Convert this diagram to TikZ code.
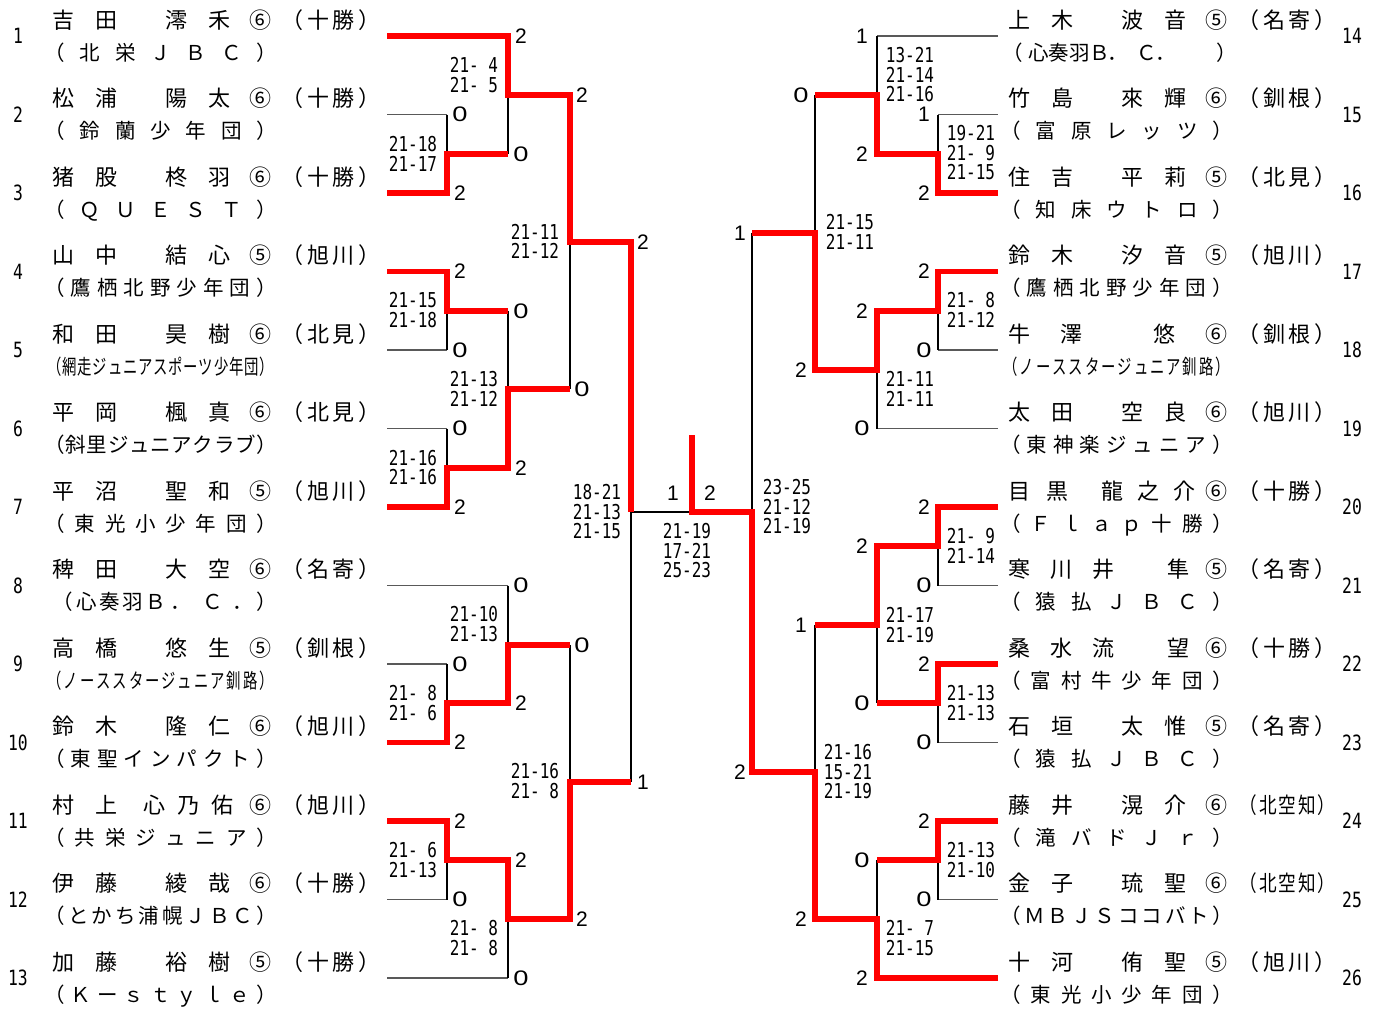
\documentclass[tikz,border=0pt]{standalone}
\usepackage{fontspec}
\usepackage{graphicx}
\newfontfamily\jp{Noto Sans CJK JP}
\newfontfamily\jpn{Noto Sans CJK JP}[FakeStretch=0.7]
\newfontfamily\jpm{Noto Sans CJK JP}[FakeStretch=0.8]
\newfontfamily\scf{DejaVu Sans Mono}[FakeStretch=0.78]
\newfontfamily\dig{Liberation Sans}
\newcount\spk
\newcommand\spread[3]{\def\spA{#1}\def\spP{#2}\global\spk=0\relax\spreadloop#3\relax}
\def\spreadloop#1{\ifx\relax#1\else\rlap{\hspace*{\dimexpr\spA pt+\spP pt*\spk\relax}\makebox[0pt][c]{#1}}\global\advance\spk by 1\relax\expandafter\spreadloop\fi}
\newcommand\std[3]{\spread{10.5}{43}{#1}\spread{123.5}{43}{#2}\spread{208}{0}{#3}}
\newcommand\afw[1]{\spread{240}{25.5}{#1}}
\newcommand\afn[1]{{\jpm\spread{240}{19.5}{#1}}}
\newcommand\tsp[2]{\spread{2}{#1}{#2}}
\begin{document}
\begin{tikzpicture}[x=1pt,y=-1pt,
  nm/.style={anchor=base west, inner sep=0pt, font=\jp\fontsize{22}{22}\selectfont},
  tmn/.style={anchor=base west, inner sep=0pt, font=\jp\fontsize{20.5}{20.5}\selectfont},
  sc/.style={align=center, inner sep=0pt, font=\scf\fontsize{20.5}{19.5}\selectfont},
  scd/.style={inner sep=0pt, font=\dig\fontsize{21}{21}\selectfont},
  num/.style={inner sep=0pt, font=\scf\fontsize{21}{21}\selectfont},
  thinl/.style={line width=1.1pt, black},
  pl/.style={line width=1.1pt, black!65},
  win/.style={line width=5.5pt, red, line join=miter}]
\useasboundingbox (0,0) rectangle (1381,1010);
\fill[white] (0,0) rectangle (1381,1010);

% ---------- thin player lines ----------
\foreach \y in {114.5,350,428.5,664,899.5} \draw[pl] (387,\y) -- (447,\y);
\foreach \y in {585.5,978} \draw[pl] (387,\y) -- (508,\y);
\foreach \y in {114.5,350,585.5,742.5,899.5} \draw[pl] (938,\y) -- (998,\y);
\foreach \y in {36,428.5} \draw[pl] (877,\y) -- (998,\y);

% ---------- thin bracket verticals ----------
\foreach \a/\b in {114.5/193,271.5/350,428.5/507,664/742.5,821/899.5} \draw[thinl] (447,\a) -- (447,\b);
\foreach \a/\b in {36/154,311/468,585.5/703,860/978} \draw[thinl] (508,\a) -- (508,\b);
\foreach \a/\b in {95/389,645/919} \draw[thinl] (570,\a) -- (570,\b);
\draw[thinl] (631,242) -- (631,782);
\foreach \a/\b in {114.5/193,271.5/350,507/585.5,664/742.5,821/899.5} \draw[thinl] (938,\a) -- (938,\b);
\foreach \a/\b in {36/154,311/428.5,546/703,860/978} \draw[thinl] (877,\a) -- (877,\b);
\foreach \a/\b in {95/370,625/919} \draw[thinl] (815,\a) -- (815,\b);
\draw[thinl] (752,233) -- (752,772);
\draw[thinl] (631,512) -- (752,512);

% ---------- winners (red) ----------
\draw[win] (387,36) -- (508,36) -- (508,95) -- (570,95) -- (570,242) -- (631,242) -- (631,512);
\draw[win] (387,193) -- (447,193) -- (447,154) -- (508,154);
\draw[win] (387,271.5) -- (447,271.5) -- (447,311) -- (508,311);
\draw[win] (387,507) -- (447,507) -- (447,468) -- (508,468) -- (508,389) -- (570,389);
\draw[win] (387,742.5) -- (447,742.5) -- (447,703) -- (508,703) -- (508,645) -- (570,645);
\draw[win] (387,821) -- (447,821) -- (447,860) -- (508,860) -- (508,919) -- (570,919) -- (570,782) -- (631,782);
\draw[win] (998,193) -- (938,193) -- (938,154) -- (877,154) -- (877,95) -- (815,95);
\draw[win] (998,271.5) -- (938,271.5) -- (938,311) -- (877,311) -- (877,370) -- (815,370) -- (815,233) -- (752,233);
\draw[win] (998,507) -- (938,507) -- (938,546) -- (877,546) -- (877,625) -- (815,625);
\draw[win] (998,664) -- (938,664) -- (938,703) -- (877,703);
\draw[win] (998,821) -- (938,821) -- (938,860) -- (877,860);
\draw[win] (998,978) -- (877,978) -- (877,919) -- (815,919) -- (815,772) -- (752,772) -- (752,512) -- (692,512) -- (692,435);

% ---------- game counts ----------
\foreach \x/\y/\t [count=\i] in {
  460/114.5/0,460/193/2,460/271.5/2,460/350/0,460/428.5/0,460/507/2,460/664/0,460/742.5/2,460/821/2,460/899.5/0,
  521/36/2,521/154/0,521/311/0,521/468/2,521/585.5/0,521/703/2,521/860/2,521/978/0,
  582/95/2,582/389/0,582/645/0,582/919/2,643/242/2,643/782/1,673/493/1,710/493/2,
  924/114.5/1,924/193/2,924/271.5/2,924/350/0,924/507/2,924/585.5/0,924/664/2,924/742.5/0,924/821/2,924/899.5/0,
  862/36/1,862/154/2,862/311/2,862/428.5/0,862/546/2,862/703/0,862/860/0,862/978/2,
  801/95/0,801/370/2,801/625/1,801/919/2,740/233/1,740/772/2}
  \node[scd] (g\i) at (\x,\y) {\ifnum\t=0 \scalebox{1.3}[1]{0}\else\t\fi};

% ---------- game scores ----------
\node[sc] (s1) at (413,154) {21-18\\21-17};
\node[sc] (s2) at (474,75) {21- 4\\21- 5};
\node[sc] (s3) at (413,310) {21-15\\21-18};
\node[sc] (s4) at (413,467.5) {21-16\\21-16};
\node[sc] (s5) at (474,389) {21-13\\21-12};
\node[sc] (s6) at (535,241.5) {21-11\\21-12};
\node[sc] (s7) at (597,512) {18-21\\21-13\\21-15};
\node[sc] (s8) at (474,624) {21-10\\21-13};
\node[sc] (s9) at (413,703) {21- 8\\21- 6};
\node[sc] (s10) at (413,860) {21- 6\\21-13};
\node[sc] (s11) at (474,938) {21- 8\\21- 8};
\node[sc] (s12) at (535,781) {21-16\\21- 8};
\node[sc] (s13) at (687,551) {21-19\\17-21\\25-23};
\node[sc] (s14) at (910,75) {13-21\\21-14\\21-16};
\node[sc] (s15) at (971,153) {19-21\\21- 9\\21-15};
\node[sc] (s16) at (850,232) {21-15\\21-11};
\node[sc] (s17) at (971,310) {21- 8\\21-12};
\node[sc] (s18) at (910,389) {21-11\\21-11};
\node[sc] (s19) at (787,507) {23-25\\21-12\\21-19};
\node[sc] (s20) at (971,546) {21- 9\\21-14};
\node[sc] (s21) at (910,625) {21-17\\21-19};
\node[sc] (s22) at (971,703) {21-13\\21-13};
\node[sc] (s23) at (848,772) {21-16\\15-21\\21-19};
\node[sc] (s24) at (971,860) {21-13\\21-10};
\node[sc] (s25) at (910,938) {21- 7\\21-15};

% ---------- draw numbers ----------
\foreach \k in {1,...,13} \node[num] (r\k) at (18,{36+78.5*(\k-1)}) {\k};
\foreach \k in {14,...,26} \node[num] (r\k) at (1352,{36+78.5*(\k-14)}) {\k};

% ---------- left players ----------
\node[nm] (n1) at (52,28) {\std{吉田}{澪禾}{⑥}\afw{（十勝）}};
\node[tmn] (t1) at (52,60) {\tsp{35.33}{（北栄ＪＢＣ）}};
\node[nm] (n2) at (52,106.5) {\std{松浦}{陽太}{⑥}\afw{（十勝）}};
\node[tmn] (t2) at (52,138.5) {\tsp{35.33}{（鈴蘭少年団）}};
\node[nm] (n3) at (52,185) {\std{猪股}{柊羽}{⑥}\afw{（十勝）}};
\node[tmn] (t3) at (52,217) {\tsp{35.33}{（ＱＵＥＳＴ）}};
\node[nm] (n4) at (52,263.5) {\std{山中}{結心}{⑤}\afw{（旭川）}};
\node[tmn] (t4) at (52,295.5) {\tsp{26.5}{（鷹栖北野少年団）}};
\node[nm] (n5) at (52,342) {\std{和田}{昊樹}{⑥}\afw{（北見）}};
\node[tmn] (t5) at (52,374) {\jpn\tsp{15.14}{（網走ジュニアスポーツ少年団）}};
\node[nm] (n6) at (52,420.5) {\std{平岡}{楓真}{⑥}\afw{（北見）}};
\node[tmn] (t6) at (52,452.5) {\tsp{21.2}{（斜里ジュニアクラブ）}};
\node[nm] (n7) at (52,499) {\std{平沼}{聖和}{⑤}\afw{（旭川）}};
\node[tmn] (t7) at (52,531) {\tsp{30.29}{（東光小少年団）}};
\node[nm] (n8) at (52,577.5) {\std{稗田}{大空}{⑥}\afw{（名寄）}};
\node[tmn] (t8) at (52,609.5) {\spread{10}{0}{（}\spread{34}{23}{心奏羽Ｂ}\spread{128}{0}{．}\spread{160}{0}{Ｃ}\spread{190}{0}{．}\spread{214}{0}{）}};
\node[nm] (n9) at (52,656) {\std{高橋}{悠生}{⑤}\afw{（釧根）}};
\node[tmn] (t9) at (52,688) {\jpn\tsp{16.31}{（ノーススタージュニア釧路）}};
\node[nm] (n10) at (52,734.5) {\std{鈴木}{隆仁}{⑥}\afw{（旭川）}};
\node[tmn] (t10) at (52,766.5) {\tsp{26.5}{（東聖インパクト）}};
\node[nm] (n11) at (52,813) {\spread{10.5}{43}{村上}\spread{102}{34}{心乃佑}\spread{208}{0}{⑥}\afw{（旭川）}};
\node[tmn] (t11) at (52,845) {\tsp{30.29}{（共栄ジュニア）}};
\node[nm] (n12) at (52,891.5) {\std{伊藤}{綾哉}{⑥}\afw{（十勝）}};
\node[tmn] (t12) at (52,923.5) {\tsp{23.56}{（とかち浦幌ＪＢＣ）}};
\node[nm] (n13) at (52,970) {\std{加藤}{裕樹}{⑤}\afw{（十勝）}};
\node[tmn] (t13) at (52,1002) {\tsp{26.5}{（Ｋーｓｔｙｌｅ）}};

% ---------- right players ----------
\node[nm] (n14) at (1008,28) {\std{上木}{波音}{⑤}\afw{（名寄）}};
\node[tmn] (t14) at (1008,60) {\spread{4}{0}{（}\spread{30}{20.5}{心奏羽Ｂ}\spread{109}{0}{．}\spread{138}{0}{Ｃ}\spread{157}{0}{．}\spread{218}{0}{）}};
\node[nm] (n15) at (1008,106.5) {\std{竹島}{來輝}{⑥}\afw{（釧根）}};
\node[tmn] (t15) at (1008,138.5) {\tsp{35.33}{（富原レッツ）}};
\node[nm] (n16) at (1008,185) {\std{住吉}{平莉}{⑤}\afw{（北見）}};
\node[tmn] (t16) at (1008,217) {\tsp{35.33}{（知床ウトロ）}};
\node[nm] (n17) at (1008,263.5) {\std{鈴木}{汐音}{⑤}\afw{（旭川）}};
\node[tmn] (t17) at (1008,295.5) {\tsp{26.5}{（鷹栖北野少年団）}};
\node[nm] (n18) at (1008,342) {\spread{10.5}{0}{牛}\spread{63}{0}{澤}\spread{156}{0}{悠}\spread{208}{0}{⑥}\afw{（釧根）}};
\node[tmn] (t18) at (1008,374) {\jpn\tsp{16.31}{（ノーススタージュニア釧路）}};
\node[nm] (n19) at (1008,420.5) {\std{太田}{空良}{⑥}\afw{（旭川）}};
\node[tmn] (t19) at (1008,452.5) {\tsp{26.5}{（東神楽ジュニア）}};
\node[nm] (n20) at (1008,499) {\spread{10.5}{38}{目黒}\spread{104}{36}{龍之介}\spread{208}{0}{⑥}\afw{（十勝）}};
\node[tmn] (t20) at (1008,531) {\tsp{30.29}{（Ｆｌａｐ十勝）}};
\node[nm] (n21) at (1008,577.5) {\spread{11}{42}{寒川井}\spread{170}{0}{隼}\spread{208}{0}{⑤}\afw{（名寄）}};
\node[tmn] (t21) at (1008,609.5) {\tsp{35.33}{（猿払ＪＢＣ）}};
\node[nm] (n22) at (1008,656) {\spread{11}{42}{桑水流}\spread{170}{0}{望}\spread{208}{0}{⑥}\afw{（十勝）}};
\node[tmn] (t22) at (1008,688) {\tsp{30.29}{（富村牛少年団）}};
\node[nm] (n23) at (1008,734.5) {\std{石垣}{太惟}{⑤}\afw{（名寄）}};
\node[tmn] (t23) at (1008,766.5) {\tsp{35.33}{（猿払ＪＢＣ）}};
\node[nm] (n24) at (1008,813) {\std{藤井}{滉介}{⑥}\afn{（北空知）}};
\node[tmn] (t24) at (1008,845) {\tsp{35.33}{（滝バドＪｒ）}};
\node[nm] (n25) at (1008,891.5) {\std{金子}{琉聖}{⑥}\afn{（北空知）}};
\node[tmn] (t25) at (1008,923.5) {\tsp{23.56}{（ＭＢＪＳココバト）}};
\node[nm] (n26) at (1008,970) {\std{十河}{侑聖}{⑤}\afw{（旭川）}};
\node[tmn] (t26) at (1008,1002) {\tsp{30.29}{（東光小少年団）}};
\end{tikzpicture}
\end{document}
